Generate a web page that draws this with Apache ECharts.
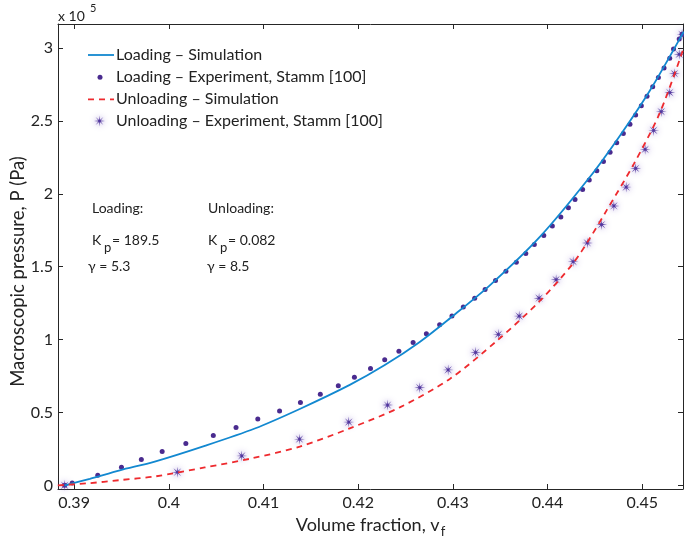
<!DOCTYPE html>
<html>
<head>
<meta charset="utf-8">
<script src="https://cdn.jsdelivr.net/npm/echarts@6/dist/echarts.min.js"></script>
<style>
html, body { margin: 0; padding: 0; background: #fff; }
#chart { width: 684px; height: 539px; }
</style>
</head>
<body>
<div id="chart"></div>
<script>
// tick values (pressure in Pa, shown in units of 1e5)
const xTicks = [0.39, 0.40, 0.41, 0.42, 0.43, 0.44, 0.45];
const yTicks = [0, 50000, 100000, 150000, 200000, 250000, 300000];

// loading - simulation curve
const loadSim = [
  [0.38902, 0], [0.39166, 4500], [0.39483, 10300], [0.39852, 16300], [0.40380, 27100],
  [0.40908, 39000], [0.41383, 52400], [0.41911, 68900], [0.42281, 82500], [0.42650, 98400],
  [0.42967, 114500], [0.43390, 137200], [0.43918, 170400], [0.44446, 211500],
  [0.44762, 239700], [0.45079, 270700], [0.45438, 311300]
];

// loading - experiment, Stamm [100]
const loadExp = [
  [0.3890, 0], [0.3898, 1700], [0.3925, 6900], [0.3950, 12400], [0.3971, 17700],
  [0.3993, 23200], [0.4018, 28700], [0.4047, 34200], [0.4071, 39700], [0.4094, 45500],
  [0.4117, 51000], [0.4139, 56800], [0.4160, 62500], [0.4179, 68400], [0.4196, 74200],
  [0.4213, 80200], [0.4228, 86100], [0.4243, 92000], [0.4258, 98000], [0.4272, 104000],
  [0.4286, 110100], [0.4299, 116100], [0.4311, 122300], [0.4323, 128400], [0.4334, 134400],
  [0.4345, 140600], [0.4356, 146800], [0.4367, 153000], [0.4377, 159100], [0.4386, 165300],
  [0.4396, 171400], [0.4405, 177900], [0.4414, 184100], [0.4422, 190400], [0.4429, 196100],
  [0.4437, 203000], [0.4444, 209400], [0.4452, 215800], [0.4459, 222200], [0.4466, 228600],
  [0.4473, 235000], [0.4480, 241400], [0.4487, 247700], [0.4493, 254100], [0.4499, 260500],
  [0.4505, 266900], [0.4511, 273400], [0.4517, 279800], [0.4523, 286300], [0.4529, 293000],
  [0.4533, 299400], [0.4539, 306200], [0.4542, 309400]
];

// unloading - simulation curve
const unloadSim = [
  [0.38828, 0], [0.39145, 1400], [0.39483, 3600], [0.39852, 6100], [0.40380, 12300],
  [0.40876, 18500], [0.41383, 26600], [0.41911, 39100], [0.42439, 53500], [0.42967, 73000],
  [0.43474, 99700], [0.43918, 126500], [0.44266, 152000], [0.44446, 169500],
  [0.44625, 188800], [0.44910, 220400], [0.45185, 255500], [0.45438, 300200]
];

// unloading - experiment, Stamm [100]
const unloadExp = [
  [0.3890, 0], [0.4009, 9000], [0.4077, 20200], [0.4138, 31700], [0.4190, 43400],
  [0.4231, 55100], [0.4265, 67000], [0.4295, 79200], [0.4324, 91300], [0.4348, 103600],
  [0.4370, 116100], [0.4391, 128400], [0.4409, 141100], [0.4427, 153500], [0.4442, 166300],
  [0.4457, 178900], [0.4470, 191700], [0.4483, 204600], [0.4493, 217500], [0.4503, 230500],
  [0.4512, 243500], [0.4520, 256400], [0.4529, 269500], [0.4534, 282400], [0.4539, 295700],
  [0.4542, 309400]
];

const FONT = 'Lato, "Open Sans", sans-serif';
const blue = '#1288d0';
const red = '#ee2a2e';
const purple = '#4a2b8f';
const starPurple = '#52379e';
const halo = 'rgba(115,85,195,0.85)';

// MATLAB-like '*' marker as a thin 8-spoke star
function starPoints(n, R, r) {
  const pts = [];
  for (let i = 0; i < 2 * n; i++) {
    const a = Math.PI * i / n;
    const rad = i % 2 === 0 ? R : r;
    pts.push([rad * Math.sin(a), -rad * Math.cos(a)]);
  }
  return pts;
}
const starPts = starPoints(8, 10, 2.2);
const starSym = 'path://' + starPts.map((p, i) => (i ? 'L' : 'M') + p[0].toFixed(2) + ' ' + p[1].toFixed(2)).join(' ') + ' Z';

const chart = echarts.init(document.getElementById('chart'));

const xBase = {
  type: 'value', min: 0.3883, max: 0.4543,
  splitLine: { show: false },
  axisLine: { show: true, onZero: false, lineStyle: { color: '#262626', width: 1 } },
  axisTick: { show: true, inside: true, length: 5, customValues: xTicks, lineStyle: { color: '#262626' } }
};
const yBase = {
  type: 'value', min: -2500, max: 316500,
  splitLine: { show: false },
  axisLine: { show: true, onZero: false, lineStyle: { color: '#262626', width: 1 } },
  axisTick: { show: true, inside: true, length: 5, customValues: yTicks, lineStyle: { color: '#262626' } }
};

const option = {
  animation: false,
  backgroundColor: '#fff',
  grid: { left: 58, right: 1, top: 24, bottom: 50, outerBoundsMode: 'none' },
  xAxis: [
    Object.assign({}, xBase, {
      position: 'bottom',
      name: '{a|Volume fraction, v}{s|f}',
      nameLocation: 'middle', nameGap: 19,
      nameTextStyle: { fontFamily: FONT, fontSize: 18, color: '#222', verticalAlign: 'top', rich: {
        a: { fontFamily: FONT, fontSize: 18, color: '#222' },
        s: { fontFamily: FONT, fontSize: 13, color: '#222', padding: [14, 0, 0, 1] }
      } },
      axisLabel: { customValues: xTicks, margin: 6, fontFamily: FONT, fontSize: 16, color: '#222',
        formatter: v => String(+v.toFixed(2)) }
    }),
    Object.assign({}, xBase, { position: 'top', axisLabel: { show: false } })
  ],
  yAxis: [
    Object.assign({}, yBase, {
      position: 'left',
      name: 'Macroscopic pressure, P (Pa)',
      nameLocation: 'middle', nameGap: 30, nameMoveOverlap: false,
      nameTextStyle: { fontFamily: FONT, fontSize: 18.5, color: '#222', padding: [0, 30, 0, 0] },
      axisLabel: { customValues: yTicks, margin: 5, fontFamily: FONT, fontSize: 16, color: '#222',
        formatter: v => String(v / 1e5) }
    }),
    Object.assign({}, yBase, { position: 'right', axisLabel: { show: false } })
  ],
  series: [
    {
      name: 'Loading – Simulation', type: 'line', data: loadSim, smooth: 0.3,
      symbol: 'none', lineStyle: { color: blue, width: 1.8 }
    },
    {
      name: 'Unloading – Simulation', type: 'line', data: unloadSim, smooth: 0.3,
      symbol: 'none', lineStyle: { color: red, width: 1.8, type: [6, 5] }
    },
    {
      name: 'Loading – Experiment, Stamm [100]', type: 'scatter', data: loadExp,
      symbol: 'circle', symbolSize: 5, itemStyle: { color: purple, opacity: 1 }
    },
    {
      name: 'Unloading – Experiment, Stamm [100]', type: 'scatter', data: unloadExp,
      symbol: starSym, symbolSize: 11,
      itemStyle: { color: starPurple, opacity: 1, shadowBlur: 6, shadowColor: halo }
    }
  ],
  graphic: [
    // exponent label
    { type: 'text', x: 58, y: 16, style: { text: 'x 10', font: '14px ' + FONT, fill: '#222', verticalAlign: 'middle' } },
    { type: 'text', x: 90, y: 8, style: { text: '5', font: '11px ' + FONT, fill: '#222', verticalAlign: 'middle' } },
    // legend
    { type: 'line', shape: { x1: 88, y1: 55, x2: 114, y2: 55 }, style: { stroke: blue, lineWidth: 1.8 } },
    { type: 'text', x: 116, y: 55, style: { text: 'Loading – Simulation', font: '16px ' + FONT, fill: '#222', verticalAlign: 'middle' } },
    { type: 'circle', shape: { cx: 100, cy: 77.3, r: 2.5 }, style: { fill: purple } },
    { type: 'text', x: 116, y: 77.3, style: { text: 'Loading – Experiment, Stamm [100]', font: '16px ' + FONT, fill: '#222', verticalAlign: 'middle' } },
    { type: 'line', shape: { x1: 88, y1: 99.3, x2: 114, y2: 99.3 }, style: { stroke: red, lineWidth: 1.8, lineDash: [6, 5] } },
    { type: 'text', x: 116, y: 99.3, style: { text: 'Unloading – Simulation', font: '16px ' + FONT, fill: '#222', verticalAlign: 'middle' } },
    { type: 'polygon', x: 99.5, y: 121, scaleX: 0.55, scaleY: 0.55,
      shape: { points: starPts },
      style: { fill: starPurple, shadowBlur: 6, shadowColor: halo } },
    { type: 'text', x: 116, y: 121, style: { text: 'Unloading – Experiment, Stamm [100]', font: '16px ' + FONT, fill: '#222', verticalAlign: 'middle' } },
    // parameter annotations
    { type: 'text', x: 92, y: 208, style: { text: 'Loading:', font: '14px ' + FONT, fill: '#222', verticalAlign: 'middle' } },
    { type: 'text', x: 92, y: 240, style: { text: 'K', font: '14px ' + FONT, fill: '#222', verticalAlign: 'middle' } },
    { type: 'text', x: 104, y: 248, style: { text: 'p', font: '13px ' + FONT, fill: '#222', verticalAlign: 'middle' } },
    { type: 'text', x: 112, y: 240, style: { text: '= 189.5', font: '14px ' + FONT, fill: '#222', verticalAlign: 'middle' } },
    { type: 'text', x: 88, y: 266, style: { text: 'γ = 5.3', font: '14px ' + FONT, fill: '#222', verticalAlign: 'middle' } },
    { type: 'text', x: 208, y: 208, style: { text: 'Unloading:', font: '14px ' + FONT, fill: '#222', verticalAlign: 'middle' } },
    { type: 'text', x: 208, y: 240, style: { text: 'K', font: '14px ' + FONT, fill: '#222', verticalAlign: 'middle' } },
    { type: 'text', x: 220, y: 248, style: { text: 'p', font: '13px ' + FONT, fill: '#222', verticalAlign: 'middle' } },
    { type: 'text', x: 228, y: 240, style: { text: '= 0.082', font: '14px ' + FONT, fill: '#222', verticalAlign: 'middle' } },
    { type: 'text', x: 207, y: 266, style: { text: 'γ = 8.5', font: '14px ' + FONT, fill: '#222', verticalAlign: 'middle' } }
  ]
};
chart.setOption(option);
</script>
</body>
</html>
